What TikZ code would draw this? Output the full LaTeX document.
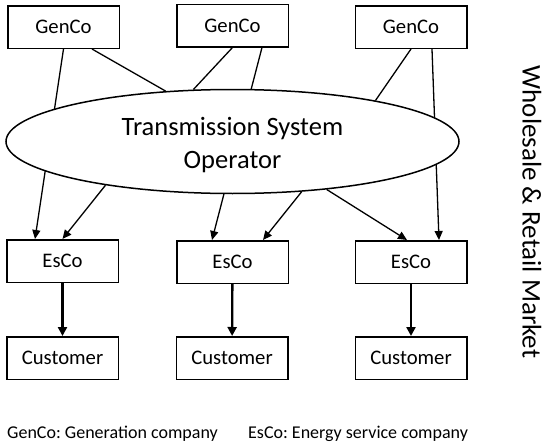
\documentclass[tikz,border=0pt]{standalone}
\usepackage{fontspec}
\setmainfont{Carlito}
\usetikzlibrary{shapes.geometric,arrows.meta}
\pgfdeclarelayer{bg}
\pgfsetlayers{bg,main}
\frenchspacing
\begin{document}
\begin{tikzpicture}[x=1pt,y=-1pt,
  box/.style={draw,line width=1.5pt,minimum width=111.5pt,minimum height=42.5pt,inner sep=0pt,font=\fontsize{20.7}{24}\selectfont},
  conn/.style={line width=1.3pt},
  arr/.style={line width=1.3pt,-{Triangle[length=9pt,width=8pt]}},
  feed/.style={line width=2.3pt,-{Triangle[length=9pt,width=9pt]}},
  legend/.style={anchor=base west,inner sep=0pt,font=\fontsize{18}{21}\selectfont}]
\useasboundingbox (0,0) rectangle (550,447);
% GenCo boxes
\node[box] (g1) at (63.5,27) {GenCo};
\node[box] (g2) at (232.5,25.5) {GenCo};
\node[box] (g3) at (411,27) {GenCo};
% TSO
\node[draw,ellipse,fill=white,line width=1.5pt,minimum width=453pt,minimum height=104pt,inner sep=0pt] (tso) at (232.5,141.5) {};
\node[align=center,inner sep=0pt,font=\fontsize{26.5}{32.3}\selectfont] (tsolabel) at (232.5,145) {Transmission System\\Operator};
% EsCo boxes
\node[box] (e1) at (62.5,261) {EsCo};
\node[box] (e2) at (232.5,262) {EsCo};
\node[box] (e3) at (411,262) {EsCo};
% Customer boxes
\node[box] (c1) at (62.5,358) {Customer};
\node[box] (c2) at (232,358) {Customer};
\node[box] (c3) at (411,358) {Customer};
% side label
\node[rotate=-90,inner sep=0pt,font=\fontsize{27}{32}\selectfont] (side) at (532,212) {Wholesale \& Retail Market};
% legend
\node[legend] (leg1) at (7,438) {GenCo: Generation company};
\node[legend] (leg2) at (248,438) {EsCo: Energy service company};
% connectors
\begin{pgfonlayer}{bg}
\draw[arr] (g1.south) -- ([xshift=-27.5pt]e1.north);
\draw[conn] ([xshift=28.5pt]g1.south) -- (tso.143.3);
\draw[conn] (g2.south) -- (tso.127.6);
\draw[arr] ([xshift=29.5pt]g2.south) -- ([xshift=-20.5pt]e2.north);
\draw[conn] (g3.south) -- (tso.16.8);
\draw[arr] ([xshift=21pt]g3.south) -- ([xshift=28pt]e3.north);
\draw[arr] (tso.199.55) -- (e1.north);
\draw[arr] (tso.-36.8) -- ([xshift=30.5pt]e2.north);
\draw[arr] (tso.-27.2) -- ([xshift=-4pt]e3.north);
\end{pgfonlayer}
\draw[feed] (e1) -- (c1);
\draw[feed] (e2) -- (c2);
\draw[feed] (e3) -- (c3);
\end{tikzpicture}
\end{document}
